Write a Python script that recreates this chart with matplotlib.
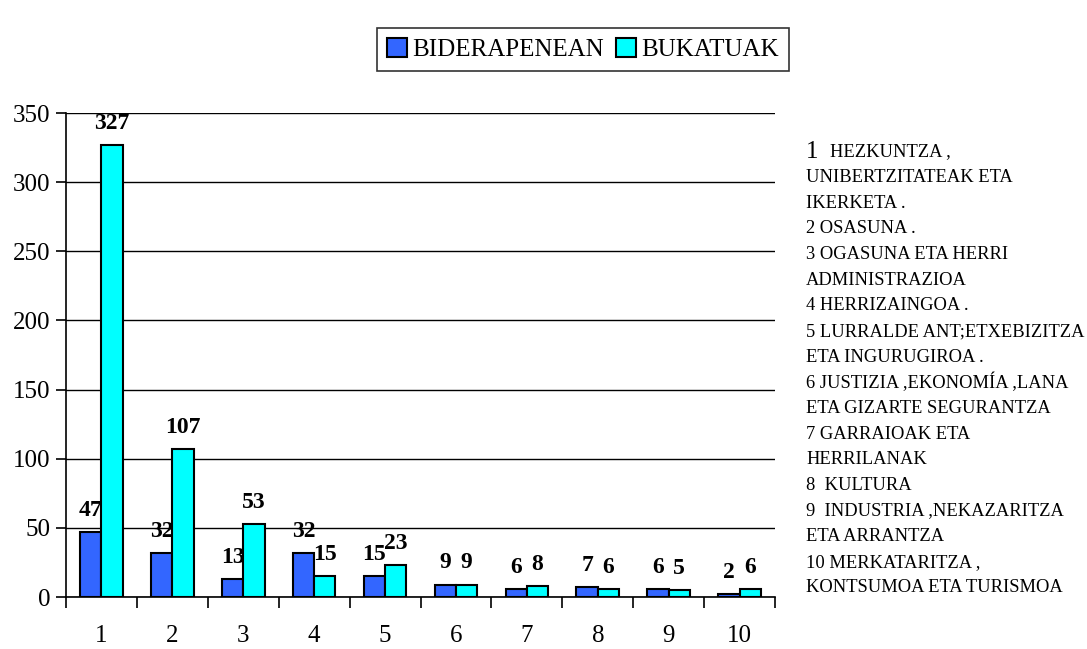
import numpy as np
import matplotlib.pyplot as plt
from matplotlib.ticker import FixedLocator

categories = ['1', '2', '3', '4', '5', '6', '7', '8', '9', '10']
bideratzen = [47, 32, 13, 32, 15, 9, 6, 7, 6, 2]
bukatuak = [327, 107, 53, 15, 23, 9, 8, 6, 5, 6]
series_names = ['BIDERAPENEAN', 'BUKATUAK']
y_ticks = [0, 50, 100, 150, 200, 250, 300, 350]

notes = [
    'HEZKUNTZA ,',
    'UNIBERTZITATEAK ETA',
    'IKERKETA .',
    '2 OSASUNA .',
    '3 OGASUNA ETA HERRI',
    'ADMINISTRAZIOA',
    '4 HERRIZAINGOA .',
    '5 LURRALDE ANT;ETXEBIZITZA',
    'ETA INGURUGIROA .',
    '6 JUSTIZIA ,EKONOMÍA ,LANA',
    'ETA GIZARTE SEGURANTZA',
    '7 GARRAIOAK ETA',
    'HERRILANAK',
    '8  KULTURA',
    '9  INDUSTRIA ,NEKAZARITZA',
    'ETA ARRANTZA',
    '10 MERKATARITZA ,',
    'KONTSUMOA ETA TURISMOA',
]

plt.rcParams['font.family'] = ['Liberation Serif', 'DejaVu Serif']

fig = plt.figure(figsize=(10.87, 6.49), dpi=100)
ax = fig.add_axes([66 / 1087, 1 - 597 / 649, (775 - 66) / 1087, (597 - 113) / 649])

ind = np.arange(len(categories))
width = 0.3
b1 = ax.bar(ind - width / 2, bideratzen, width, color='#3366FF', edgecolor='black', linewidth=1.5, zorder=3)
b2 = ax.bar(ind + width / 2, bukatuak, width, color='#00FFFF', edgecolor='black', linewidth=1.5, zorder=3)

for bars, vals in ((b1, bideratzen), (b2, bukatuak)):
    for rect, v in zip(bars, vals):
        ax.annotate(str(v), (rect.get_x() + rect.get_width() / 2, v),
                    xytext=(0, 8), textcoords='offset points',
                    ha='center', va='bottom', fontsize=17, fontweight='bold')

ax.set_xlim(-0.5, len(categories) - 0.5)
ax.set_ylim(0, 350)
ax.set_yticks(y_ticks)
ax.set_xticks(ind)
ax.set_xticklabels(categories)
ax.xaxis.set_minor_locator(FixedLocator(np.arange(-0.5, len(categories), 1.0)))
ax.tick_params(axis='x', which='major', length=0, labelsize=18, pad=20)
ax.tick_params(axis='x', which='minor', length=8, width=1.2, direction='out')
ax.tick_params(axis='y', length=7, width=1.2, direction='out', labelsize=18, pad=4)

ax.yaxis.grid(True, color='black', linewidth=1, zorder=0)
ax.set_axisbelow(True)
ax.spines['top'].set_visible(False)
ax.spines['right'].set_visible(False)
ax.spines['left'].set_linewidth(1.2)
ax.spines['bottom'].set_linewidth(1.2)

leg = fig.legend((b1[0], b2[0]), series_names, loc='upper center',
                 bbox_to_anchor=(583 / 1087, 1 - 15 / 649), ncol=2,
                 fontsize=18, frameon=True, fancybox=False, shadow=False,
                 handlelength=0.8, handleheight=0.8, handletextpad=0.2,
                 columnspacing=0.5, borderpad=0.4)
leg.get_frame().set_edgecolor('black')
leg.get_frame().set_linewidth(1.2)

# right-hand key; the leading "1" is drawn larger as in the original
y0 = 152
step = (588 - 152) / (len(notes) - 1)
fig.text(806 / 1087, 1 - y0 / 649, '1', fontsize=18, ha='left', va='center')
for i, line in enumerate(notes):
    x = 830 if i == 0 else 806
    fig.text(x / 1087, 1 - (y0 + i * step) / 649, line, fontsize=13.3,
             ha='left', va='center')

fig.savefig('out.png', dpi=100)
